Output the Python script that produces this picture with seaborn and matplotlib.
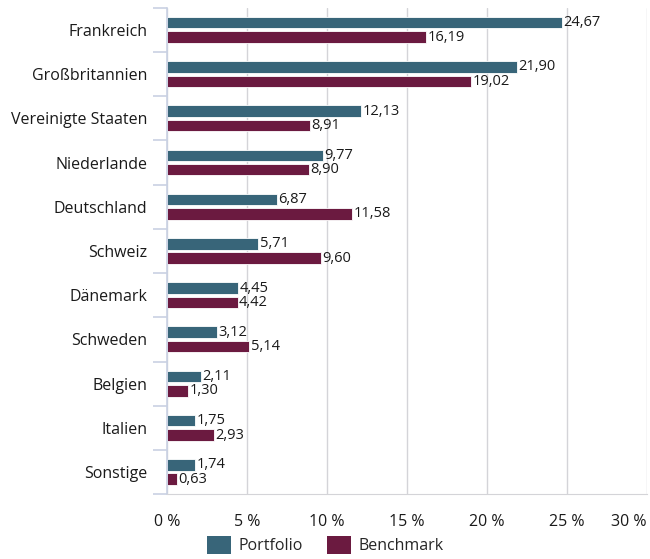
import numpy as np
import pandas as pd
import matplotlib
matplotlib.use('Agg')
import matplotlib.pyplot as plt
import seaborn as sns
from matplotlib.ticker import FixedLocator

# chart data
countries = ['Frankreich', 'Großbritannien', 'Vereinigte Staaten', 'Niederlande', 'Deutschland',
             'Schweiz', 'Dänemark', 'Schweden', 'Belgien', 'Italien', 'Sonstige']
portfolio = [24.67, 21.90, 12.13, 9.77, 6.87, 5.71, 4.45, 3.12, 2.11, 1.75, 1.74]
benchmark = [16.19, 19.02, 8.91, 8.90, 11.58, 9.60, 4.42, 5.14, 1.30, 2.93, 0.63]
series = ['Portfolio', 'Benchmark']
x_ticks = [0, 5, 10, 15, 20, 25, 30]

df = pd.DataFrame({'Land': countries * 2,
                   'Wert': portfolio + benchmark,
                   'Serie': [series[0]] * len(countries) + [series[1]] * len(countries)})

sns.set_style('white')
plt.rcParams['font.family'] = ['Open Sans', 'DejaVu Sans']

fig = plt.figure(figsize=(6.5, 5.59), dpi=100)
ax = fig.add_axes([0.257, 0.116, 0.738, 0.870])

palette = {'Portfolio': '#386579', 'Benchmark': '#6b1a40'}
sns.barplot(data=df, y='Land', x='Wert', hue='Serie', order=countries, hue_order=series,
            palette=palette, width=0.65, gap=0.2, orient='h', ax=ax,
            edgecolor='white', linewidth=0.6, saturation=1, legend=True)

for cont in ax.containers:
    labels = [f'{v:.2f}'.replace('.', ',') for v in cont.datavalues]
    ax.bar_label(cont, labels=labels, padding=1, fontsize=10.5, color='#1a1a1a')

ax.set_xlim(0, 30)
ax.set_ylim(len(countries) - 0.5, -0.5)
ax.set_xticks(x_ticks)
ax.set_xticklabels([f'{t} %' for t in x_ticks])
ax.get_xticklabels()[-1].set_horizontalalignment('right')
ax.set_xlabel('')
ax.set_ylabel('')

ax.grid(axis='x', color='#d4d4d8', linewidth=1)
ax.set_axisbelow(True)

# ticks between categories on the y axis
ax.yaxis.set_minor_locator(FixedLocator(np.arange(-0.5, len(countries), 1)))
ax.tick_params(axis='y', which='major', length=0, pad=14, labelsize=11.5, labelcolor='#1a1a1a')
ax.tick_params(axis='y', which='minor', length=10, width=1.2, color='#c9d1e3', left=True)
ax.tick_params(axis='x', length=0, pad=14, labelsize=11.5, labelcolor='#1a1a1a')

for s in ['top', 'right']:
    ax.spines[s].set_visible(False)
ax.spines['left'].set_color('#c9d1e3')
ax.spines['left'].set_linewidth(1.2)
ax.spines['bottom'].set_color('#d4d4d8')

leg = ax.legend(loc='center', bbox_to_anchor=(0.33, -0.105), ncol=2, frameon=False,
                fontsize=11.5, handlelength=1.5, handleheight=1.3, columnspacing=1.5,
                handletextpad=0.5)
for h in leg.legend_handles:
    h.set_edgecolor('none')

fig.savefig('out.png', dpi=100)
